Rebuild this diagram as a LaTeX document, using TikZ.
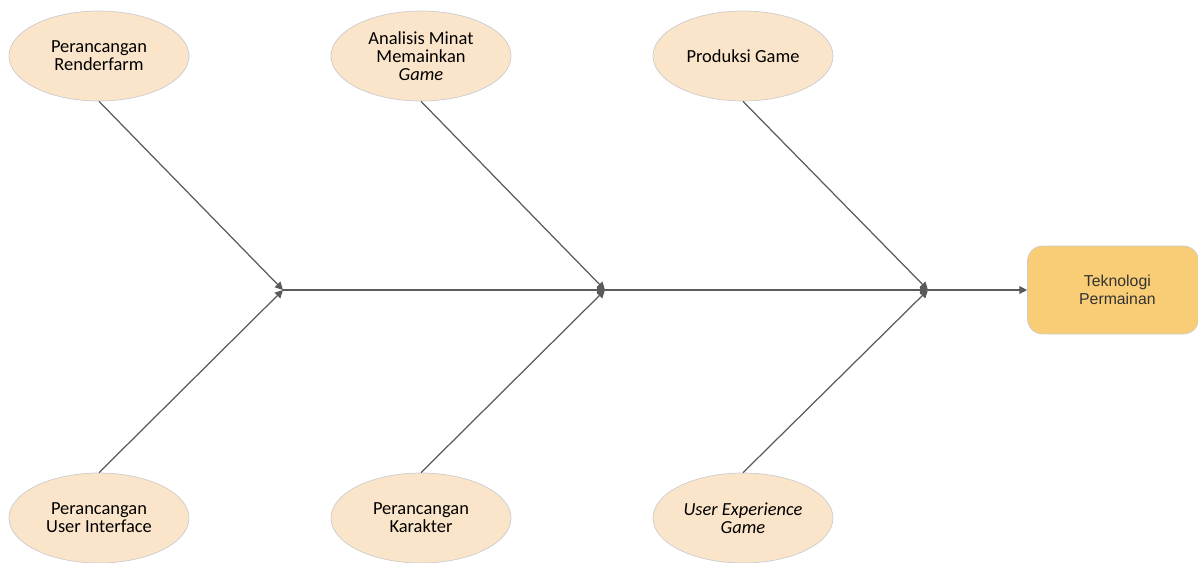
\documentclass[tikz,border=0pt]{standalone}
\usepackage{fontspec}
\setmainfont{Carlito}
\newfontfamily\arialfont{Liberation Sans}
\usetikzlibrary{arrows.meta, shapes.geometric}
\definecolor{causeFill}{HTML}{FBE5CA}
\definecolor{effectFill}{HTML}{F9CD76}
\definecolor{boneGray}{HTML}{5A5A5A}
\begin{document}
\begin{tikzpicture}[x=0.02cm, y=-0.02cm,
    cause/.style={ellipse, draw=black!20, fill=causeFill, minimum width=3.6cm,
        minimum height=1.8cm, inner sep=0pt, align=center,
        font=\fontsize{10.5}{10.2}\selectfont},
    effect/.style={rectangle, rounded corners=0.3cm, draw=black!20, fill=effectFill,
        minimum width=3.42cm, minimum height=1.76cm, align=center,
        font=\arialfont\fontsize{9}{10}\selectfont, text=black!80},
    bone/.style={draw=boneGray, line width=0.7pt, -{Triangle[length=4.5pt, width=4.5pt]}}]

    \useasboundingbox (0, 0) rectangle (1198, 562);

    \def\spineY{290}
    \def\topY{56}
    \def\bottomY{518}

    % junctions on the spine
    \coordinate (j1) at (283, \spineY);
    \coordinate (j2) at (605, \spineY);
    \coordinate (j3) at (928, \spineY);

    % effect
    \node[effect] (effect) at (1113, \spineY) {\hspace*{5pt}Teknologi\\\hspace*{5pt}Permainan};

    % causes, top row
    \node[cause] (renderfarm) at (99, \topY) {Perancangan\\Renderfarm};
    \node[cause] (minat) at (421, \topY) {Analisis Minat\\Memainkan\\\textit{Game}};
    \node[cause] (produksi) at (743, \topY) {Produksi Game};

    % causes, bottom row
    \node[cause] (ui) at (99, \bottomY) {Perancangan\\User Interface};
    \node[cause] (karakter) at (421, \bottomY) {Perancangan\\Karakter};
    \node[cause] (ux) at (743, \bottomY) {\textit{User Experience}\\\textit{Game}};

    % spine
    \draw[bone] (j1) -- (j2);
    \draw[bone] (j2) -- (j3);
    \draw[bone] (j3) -- (effect.west);

    % bones
    \draw[bone] (renderfarm.south) -- (j1);
    \draw[bone] (ui.north) -- (j1);
    \draw[bone] (minat.south) -- (j2);
    \draw[bone] (karakter.north) -- (j2);
    \draw[bone] (produksi.south) -- (j3);
    \draw[bone] (ux.north) -- (j3);

\end{tikzpicture}
\end{document}
